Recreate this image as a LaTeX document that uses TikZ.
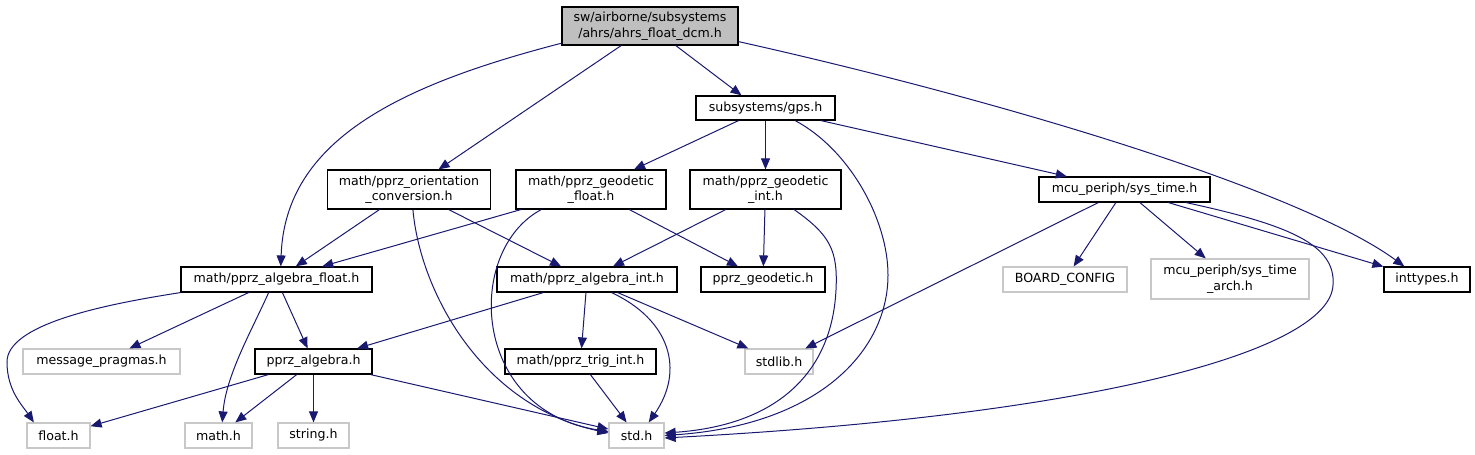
\documentclass[tikz,border=0pt]{standalone}
\usepackage{fontspec}
\setmainfont{DejaVu Sans}
\usepackage{xcolor}
\usepackage{tikz}
\usetikzlibrary{arrows.meta}
\definecolor{edgeblue}{HTML}{191970}
\definecolor{hdrgray}{HTML}{BFBFBF}
\definecolor{extgray}{HTML}{C8C8C8}

\begin{document}
\begin{tikzpicture}[x=1pt,y=-1pt,>={Triangle[length=11pt,width=9pt]},
  file/.style={draw=black,line width=1.2pt,fill=white,inner sep=0pt,align=center,
    font=\fontsize{12.6pt}{15.5pt}\selectfont,minimum height=25pt},
  ext/.style={file,draw=extgray},
  dep/.style={->,draw=edgeblue,fill=none,line width=1pt}]
  \useasboundingbox (0,0) rectangle (1475,455);
  % ---- header files ----
  \node[file,fill=hdrgray,minimum width=176pt,minimum height=38pt] (root) at (650,26)
    {sw/airborne/subsystems\\/ahrs/ahrs\_float\_dcm.h};
  \node[file,minimum width=139pt,minimum height=24pt] (gps) at (765.5,108) {subsystems/gps.h};
  \node[file,minimum width=163pt,minimum height=39pt] (orient) at (409,189.5)
    {math/pprz\_orientation\\\_conversion.h};
  \node[file,minimum width=150pt,minimum height=39pt] (geofloat) at (591,189.5)
    {math/pprz\_geodetic\\\_float.h};
  \node[file,minimum width=151pt,minimum height=39pt] (geoint) at (765.5,189.5)
    {math/pprz\_geodetic\\\_int.h};
  \node[file,minimum width=171pt] (systime) at (1124.5,189.5) {mcu\_periph/sys\_time.h};
  \node[file,minimum width=191pt] (algfloat) at (276.5,279.5) {math/pprz\_algebra\_float.h};
  \node[file,minimum width=180pt] (algint) at (587,279.5) {math/pprz\_algebra\_int.h};
  \node[file,minimum width=124pt] (geodetic) at (763,279.5) {pprz\_geodetic.h};
  \node[file,minimum width=86pt] (inttypes) at (1427,279.5) {inttypes.h};
  \node[file,minimum width=117pt] (pprzalg) at (313.5,361.5) {pprz\_algebra.h};
  \node[file,minimum width=151pt] (trigint) at (580.5,361.5) {math/pprz\_trig\_int.h};
  % ---- not documented ----
  \node[ext,minimum width=124pt] (boardcfg) at (1065,279.5) {BOARD\_CONFIG};
  \node[ext,minimum width=158pt,minimum height=40pt] (systimearch) at (1230,279)
    {mcu\_periph/sys\_time\\\_arch.h};
  \node[ext,minimum width=157pt] (msgprag) at (101.5,361.5) {message\_pragmas.h};
  \node[ext,minimum width=68pt] (stdlib) at (779,361.5) {stdlib.h};
  \node[ext,minimum width=63pt] (floath) at (58.5,435.5) {float.h};
  \node[ext,minimum width=67pt] (mathh) at (218.5,435.5) {math.h};
  \node[ext,minimum width=71pt] (stringh) at (313.5,435.5) {string.h};
  \node[ext,minimum width=55pt] (stdh) at (636.5,435.5) {std.h};
  % ---- includes ----
  \draw[dep] (root.191) .. controls (400,85) and (285,140) .. (algfloat.72);
  \draw[dep] (root) -- (orient);
  \draw[dep] (root) -- ([xshift=-24pt]gps.north);
  \draw[dep] (root.-10) .. controls (1000,100) and (1300,190) .. (inttypes.150);
  \draw[dep] (gps) -- (geofloat);
  \draw[dep] (gps) -- (geoint);
  \draw[dep] (gps) -- (systime);
  \draw[dep] (gps.-23) .. controls (850,150) and (888,220) .. (888,275)
    .. controls (888,350) and (820,425) .. (stdh.east);
  \draw[dep] (orient) -- (algfloat);
  \draw[dep] (orient) -- (algint);
  \draw[dep] (orient.-79) .. controls (420,290) and (480,405) .. (stdh.175);
  \draw[dep] (geofloat) -- (algfloat);
  \draw[dep] (geofloat) -- (geodetic);
  \draw[dep] (geofloat.202) .. controls (465,250) and (470,410) .. (stdh.172);
  \draw[dep] (geoint) -- (algint);
  \draw[dep] (geoint) -- (geodetic);
  \draw[dep] (geoint.-35) .. controls (830,235) and (838,250) .. (836,290)
    .. controls (832,370) and (780,425) .. (stdh.5);
  \draw[dep] (systime) -- (stdlib);
  \draw[dep] (systime) -- (boardcfg);
  \draw[dep] (systime) -- (systimearch);
  \draw[dep] (systime) -- (inttypes);
  \draw[dep] (systime.-12) .. controls (1290,225) and (1336,245) .. (1333,285)
    .. controls (1330,350) and (1100,415) .. (stdh.-5);
  \draw[dep] (algfloat.south west) .. controls (100,305) and (7,325) .. (7,362)
    .. controls (7,390) and (22,405) .. (floath.152);
  \draw[dep] (algfloat) -- (msgprag);
  \draw[dep] (algfloat.239) .. controls (252,330) and (226,375) .. (mathh.74);
  \draw[dep] (algfloat) -- (pprzalg);
  \draw[dep] (algint) -- (pprzalg);
  \draw[dep] (algint) -- (trigint);
  \draw[dep] (algint) -- (stdlib);
  \draw[dep] (algint.-28) .. controls (670,320) and (685,370) .. (stdh.47);
  \draw[dep] (pprzalg) -- (floath);
  \draw[dep] (pprzalg) -- (mathh);
  \draw[dep] (pprzalg) -- (stringh);
  \draw[dep] (pprzalg) -- (stdh);
  \draw[dep] (trigint) -- (stdh);
\end{tikzpicture}
\end{document}
